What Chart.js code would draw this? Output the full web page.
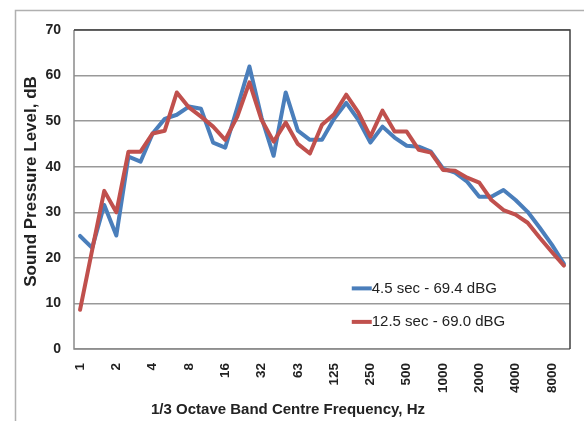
<!DOCTYPE html>
<html><head><meta charset="utf-8">
<script src="https://cdn.jsdelivr.net/npm/chart.js@4/dist/chart.umd.min.js"></script>
<style>html,body{margin:0;padding:0;background:#fff;}#wrap{width:584px;height:421px;position:relative;}</style>
</head><body><div id="wrap"><canvas id="c" width="584" height="421"></canvas></div>
<script>
const bands = ['1','1.25','1.6','2','2.5','3.15','4','5','6.3','8','10','12.5','16','20','25','31.5','40','50','63','80','100','125','160','200','250','315','400','500','630','800','1000','1250','1600','2000','2500','3150','4000','5000','6300','8000','10000'];
const tickLabels = ['1','2','4','8','16','32','63','125','250','500','1000','2000','4000','8000'];
const yTicks = [0,10,20,30,40,50,60,70];
const xTitle = '1/3 Octave Band Centre Frequency, Hz';
const yTitle = 'Sound Pressure Level, dB';
const series1Label = '4.5 sec - 69.4 dBG';
const series2Label = '12.5 sec - 69.0 dBG';
const series1 = [24.8,22.2,31.6,24.9,42.2,41.1,47.3,50.5,51.4,53.2,52.7,45.3,44.2,53,62,50.8,42.4,56.3,47.9,45.9,45.9,50.5,54,50.3,45.3,48.8,46.4,44.6,44.4,43.3,39.6,38.7,36.7,33.4,33.4,34.9,32.7,30.1,26.6,22.9,18.7];
const series2 = [8.6,21.7,34.7,30,43.3,43.3,47.3,47.9,56.3,53,51,48.8,45.9,51,58.5,50.3,45.5,49.7,45,42.9,49.2,51.5,55.8,51.9,46.6,52.3,47.7,47.7,43.7,43.1,39.3,39.1,37.6,36.5,32.7,30.5,29.5,27.7,24.4,21.3,18.3];

const BLUE = '#4a7ebb', RED = '#c0504d';
const FONT = '"Liberation Sans", Arial, sans-serif';
const PLOT = {left:74, right:570, top:30, bottom:349};

const framePlugin = {
  id:'frame',
  beforeDraw(chart){
    const ctx = chart.ctx;
    ctx.save();
    ctx.fillStyle='#fff'; ctx.fillRect(0,0,chart.width,chart.height);
    ctx.strokeStyle='#b0b0b0'; ctx.lineWidth=1.5;
    ctx.beginPath(); ctx.moveTo(15.5,421); ctx.lineTo(15.5,10.5); ctx.lineTo(584,10.5); ctx.stroke();
    ctx.restore();
  },
  afterDatasetsDraw(chart){
    const a = chart.chartArea, ctx = chart.ctx;
    ctx.save();
    ctx.strokeStyle='#8a8a8a'; ctx.lineWidth=1.5;
    ctx.beginPath(); ctx.moveTo(a.left, a.top); ctx.lineTo(a.left, a.bottom); ctx.lineTo(a.right, a.bottom); ctx.stroke();
    ctx.strokeStyle='#404040';
    ctx.beginPath(); ctx.moveTo(a.left, a.top); ctx.lineTo(a.right, a.top); ctx.lineTo(a.right, a.bottom); ctx.stroke();
    // axis titles
    ctx.fillStyle='#222'; ctx.textAlign='center'; ctx.textBaseline='middle';
    ctx.font = 'bold 15px ' + FONT;
    ctx.fillText(xTitle, chart.width/2 - 4, 410);
    ctx.save();
    ctx.translate(31, (a.top + a.bottom)/2 - 8); ctx.rotate(-Math.PI/2);
    ctx.font = 'bold 17px ' + FONT;
    ctx.fillText(yTitle, 0, 0);
    ctx.restore();
    // legend
    ctx.textAlign='left';
    ctx.font = '15px ' + FONT;
    const items = chart.data.datasets;
    const x0 = a.left + (a.right - a.left)*0.56, ys=[a.top + (a.bottom-a.top)*0.81, a.top + (a.bottom-a.top)*0.915];
    items.forEach((ds,i)=>{
      ctx.strokeStyle = ds.borderColor; ctx.lineWidth=4; ctx.lineCap='butt';
      ctx.beginPath(); ctx.moveTo(x0, ys[i]); ctx.lineTo(x0+20, ys[i]); ctx.stroke();
      ctx.fillText(ds.label, x0+20, ys[i]);
    });
    ctx.restore();
  }
};

new Chart(document.getElementById('c'), {
  type:'line',
  data:{
    labels: bands,
    datasets:[
      {label:series1Label, data:series1, borderColor:BLUE, backgroundColor:BLUE, borderWidth:4, pointRadius:0, tension:0, borderJoinStyle:'round', borderCapStyle:'round', order:1},
      {label:series2Label, data:series2, borderColor:RED, backgroundColor:RED, borderWidth:4, pointRadius:0, tension:0, borderJoinStyle:'round', borderCapStyle:'round', order:0}
    ]
  },
  options:{
    responsive:false, animation:false, devicePixelRatio:1,
    layout:{padding:{left:17, right:584-PLOT.right, top:PLOT.top, bottom:2}},
    plugins:{legend:{display:false}, tooltip:{enabled:false}},
    scales:{
      x:{
        offset:true,
        grid:{display:false, drawTicks:false, offset:true},
        border:{display:false},
        ticks:{autoSkip:false, minRotation:90, maxRotation:90, padding:14, color:'#222',
          font:{family:FONT, size:13.5, weight:'bold'},
          callback:(v,i)=> i%3===0 ? tickLabels[i/3] : ''},
        afterFit(s){ s.height = 421 - PLOT.bottom - 2; s.paddingLeft = 0; s.paddingRight = 0; }
      },
      y:{
        min:0, max:70,
        afterBuildTicks(s){ s.ticks = yTicks.map(v=>({value:v})); },
        grid:{color:'#999', lineWidth:1.5, drawTicks:false},
        border:{display:false},
        ticks:{padding:13, color:'#222', font:{family:FONT, size:14, weight:'bold'}},
        afterFit(s){ s.width = PLOT.left - 17; s.paddingTop = 0; s.paddingBottom = 0; }
      }
    }
  },
  plugins:[framePlugin]
});
</script></body></html>
